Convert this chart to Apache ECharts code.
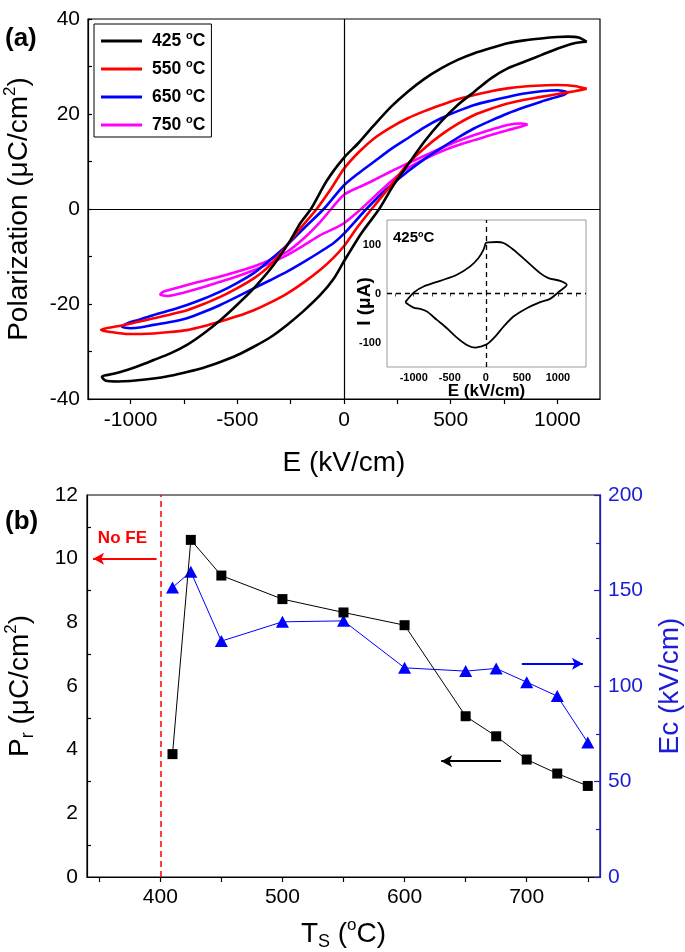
<!DOCTYPE html>
<html><head><meta charset="utf-8">
<script src="https://cdn.jsdelivr.net/npm/echarts@6/dist/echarts.min.js"></script>
<style>html,body{margin:0;padding:0;background:#fff}#c{width:685px;height:952px}</style>
</head><body><div id="c"></div>
<script>
const FONT = 'Liberation Sans, Arial, sans-serif';

// ---------- Panel (a): P-E hysteresis loops (E kV/cm, P uC/cm2) ----------
const loopNames = ['425', '550', '650', '750'];
const loopColors = ['#000000', '#ff0000', '#0000ff', '#ff00ff'];
const loop425 = [[1138,35.2],[1100,36.1],[1050,36.3],[1000,36.2],[924,35.9],[845,35.5],[767,34.9],[689,33.9],[611,32.8],[533,31.4],[455,29.6],[377,27.4],[299,24.7],[220,21.5],[142,17.7],[70,14.0],[0,10.8],[-80,6.0],[-155,0],[-205,-3.0],[-250,-6.5],[-330,-11.8],[-423,-16.7],[-502,-20.2],[-580,-23.4],[-658,-26.2],[-736,-28.6],[-814,-30.4],[-892,-31.8],[-960,-33.0],[-1017,-33.9],[-1080,-34.7],[-1135,-35.3],
  [-1119,-36.1],[-1060,-36.3],[-1002,-36.2],[-892,-35.7],[-814,-35.1],[-736,-34.3],[-658,-33.4],[-580,-32.2],[-502,-30.8],[-423,-29.0],[-345,-27.0],[-267,-24.4],[-190,-21.5],[-111,-18.1],[-50,-14.8],[0,-11.0],[80,-5.2],[165,0],[230,4.9],[299,9.3],[377,14.2],[455,18.4],[533,21.9],[611,24.7],[689,27.5],[767,29.6],[845,31.0],[924,32.4],[1002,33.8],[1080,34.9],[1138,35.2]];
const loop550 = [[1138,25.3],[1080,25.9],[1002,26.1],[924,26.0],[845,25.8],[767,25.4],[689,24.8],[611,24.0],[533,23.1],[455,21.9],[377,20.6],[299,19.1],[220,17.2],[142,14.9],[70,12.0],[0,8.5],[-60,4.3],[-128,0],[-205,-4.1],[-267,-7.6],[-346,-11.8],[-423,-14.6],[-502,-16.7],[-580,-18.5],[-658,-20.0],[-736,-21.3],[-814,-22.2],[-892,-23.0],[-970,-23.8],[-1049,-24.6],[-1139,-25.4],
  [-1111,-25.8],[-1060,-26.1],[-1017,-26.3],[-950,-26.3],[-892,-26.2],[-814,-25.9],[-736,-25.5],[-658,-24.7],[-580,-23.7],[-502,-22.6],[-423,-21.3],[-346,-19.7],[-267,-17.8],[-190,-15.5],[-111,-12.8],[-50,-10.3],[0,-7.8],[60,-4.0],[130,0],[220,5.0],[299,9.5],[377,12.8],[455,15.6],[533,17.9],[611,19.8],[689,21.1],[767,22.2],[845,23.0],[924,23.6],[1002,24.2],[1080,24.8],[1138,25.3]];
const loop650 = [[1049,24.6],[1002,25.0],[924,24.8],[845,24.3],[767,23.6],[689,22.8],[611,21.9],[533,20.6],[455,19.1],[377,17.2],[299,14.9],[220,12.6],[142,10.0],[70,7.6],[0,5.0],[-95,0],[-189,-4.1],[-267,-7.6],[-346,-10.7],[-423,-13.5],[-502,-15.6],[-580,-17.4],[-658,-18.9],[-736,-20.2],[-814,-21.3],[-892,-22.3],[-960,-23.3],[-1017,-24.1],[-1041,-24.8],
  [-1002,-25.1],[-950,-24.9],[-892,-24.4],[-814,-23.8],[-736,-23.0],[-658,-21.7],[-580,-20.2],[-502,-18.5],[-423,-16.7],[-346,-15.0],[-267,-13.2],[-190,-11.2],[-111,-9.0],[-50,-7.2],[0,-5.2],[105,0],[200,4.2],[299,7.9],[377,10.5],[455,12.8],[533,15.0],[611,17.0],[689,18.6],[767,20.1],[845,21.4],[924,22.6],[990,23.5],[1033,24.1],[1049,24.6]];
const loop750 = [[861,17.8],[830,18.0],[767,17.7],[689,16.7],[611,15.6],[533,14.3],[455,12.8],[377,11.2],[299,9.6],[220,7.9],[142,6.1],[70,4.6],[0,3.0],[-60,0],[-111,-2.7],[-189,-6.2],[-267,-9.0],[-346,-10.7],[-423,-12.1],[-502,-13.2],[-580,-14.2],[-658,-15.1],[-736,-16.0],[-800,-16.8],[-846,-17.4],[-861,-18.0],
  [-830,-18.3],[-780,-17.9],[-736,-17.4],[-658,-16.4],[-580,-15.3],[-502,-14.2],[-423,-12.9],[-346,-11.4],[-267,-9.7],[-190,-7.7],[-111,-5.5],[-50,-4.2],[0,-3.0],[80,0],[142,2.6],[220,5.8],[299,8.6],[377,10.5],[455,12.1],[533,13.4],[611,14.5],[689,15.6],[767,16.6],[820,17.2],[853,17.7],[861,17.8]];
const loops = [loop425, loop550, loop650, loop750];
const eTickLabels = [-1000, -500, 0, 500, 1000];
const eTicks = [-1000, -750, -500, -250, 0, 250, 500, 750, 1000];

// ---------- Inset: I-E loop at 425 C (E kV/cm, I uA) ----------
const insetIE = [[-1117,-17.7],[-993,2.7],[-863,14.3],[-633,25.9],[-402,38.2],[-217,55.3],[-102,72.4],[-32,89.4],[0,103],[37,104.4],[152,105.1],[245,103],[383,89.4],[568,65.5],[753,41.6],[868,31.4],[1030,25.9],[1122,17.7],
  [1006,2.7],[891,-10.9],[753,-17.7],[568,-30],[383,-47.1],[245,-67.6],[129,-88.1],[14,-103.8],[-78,-108.5],[-148,-110.6],[-263,-105.1],[-402,-90.1],[-540,-71],[-679,-53.9],[-817,-36.9],[-910,-31.4],[-1002,-28.7],[-1117,-17.7]];
const insetELabels = [-1000, -500, 0, 500, 1000];
const insetETicks = [-1250, -1000, -750, -500, -250, 0, 250, 500, 750, 1000, 1250];
const insetILabels = [-100, 0, 100];

// ---------- Panel (b): Pr and Ec vs Ts ----------
const tsValues = [410, 425, 450, 500, 550, 600, 650, 675, 700, 725, 750];
const prValues = [3.86, 10.59, 9.47, 8.73, 8.31, 7.91, 5.05, 4.42, 3.69, 3.25, 2.86];
const ecValues = [151.6, 159.8, 123.5, 133.6, 134.1, 109.5, 107.8, 109.2, 102.0, 94.7, 70.4];
const tsTickLabels = [400, 500, 600, 700];
const tsTicks = [350, 400, 450, 500, 550, 600, 650, 700, 750];
const prMinorTicks = [1, 3, 5, 7, 9, 11];

const chart = echarts.init(document.getElementById('c'), null, {renderer: 'canvas'});
const black = '#000';
const blueAxis = '#1c1cd6';
const axisLine = {show: true, onZero: false, lineStyle: {color: black, width: 1.2}};
const plain = v => String(v);

const series = [];
loops.forEach((d, i) => {
  const s = {
    name: loopNames[i], type: 'line', xAxisIndex: 0, yAxisIndex: 0,
    data: d, showSymbol: false, symbol: 'none', smooth: 0.25,
    lineStyle: {color: loopColors[i], width: 2.6}, itemStyle: {color: loopColors[i]},
    z: 5 - i
  };
  if (i === 0) {
    s.markLine = {silent: true, symbol: ['none', 'none'], label: {show: false},
      lineStyle: {color: black, width: 1.2, type: 'solid'},
      data: [{xAxis: 0}, {yAxis: 0}]};
  }
  series.push(s);
});
series.push({
  name: 'inset', type: 'line', xAxisIndex: 1, yAxisIndex: 1, data: insetIE,
  showSymbol: false, symbol: 'none', smooth: 0.3, lineStyle: {color: black, width: 1.8},
  markLine: {silent: true, symbol: ['none', 'none'], label: {show: false},
    lineStyle: {color: black, width: 1.3, type: [5, 4]},
    data: [{xAxis: 0}, {yAxis: 0}]}
});
series.push({
  name: 'Pr', type: 'line', xAxisIndex: 2, yAxisIndex: 2,
  data: tsValues.map((t, i) => [t, prValues[i]]),
  symbol: 'rect', symbolSize: 10, lineStyle: {color: black, width: 1}, itemStyle: {color: black}, z: 4,
  markLine: {silent: true, label: {show: false}, symbol: ['none', 'none'],
    data: [
      {xAxis: 400, lineStyle: {color: '#ff0000', width: 1.5, type: [6, 4]}},
      [{coord: [397, 10], lineStyle: {color: '#ff0000', width: 2, type: 'solid'}, symbol: 'none'},
       {coord: [345, 10], symbol: 'arrow', symbolSize: [9, 11]}],
      [{coord: [679, 3.64], lineStyle: {color: black, width: 2, type: 'solid'}, symbol: 'none'},
       {coord: [630, 3.64], symbol: 'arrow', symbolSize: [9, 11]}]
    ]},
  markPoint: {silent: true, symbol: 'rect', symbolSize: 1, itemStyle: {color: 'rgba(0,0,0,0)'},
    label: {show: true, position: 'inside', formatter: 'No FE', color: '#ff0000', fontWeight: 'bold', fontSize: 17, fontFamily: FONT},
    data: [{coord: [369, 10.65]}]}
});
series.push({
  name: 'Ec', type: 'line', xAxisIndex: 2, yAxisIndex: 3,
  data: tsValues.map((t, i) => [t, ecValues[i]]),
  symbol: 'triangle', symbolSize: [13, 12], lineStyle: {color: '#0000ff', width: 1}, itemStyle: {color: '#0000ff'}, z: 3,
  markLine: {silent: true, label: {show: false}, symbol: ['none', 'none'],
    data: [
      [{coord: [696, 111.6], lineStyle: {color: '#0000ff', width: 2, type: 'solid'}, symbol: 'none'},
       {coord: [746, 111.6], symbol: 'arrow', symbolSize: [9, 11]}]
    ]}
});

const option = {
  animation: false,
  backgroundColor: '#fff',
  textStyle: {fontFamily: FONT},
  grid: [
    {left: 88, top: 19, width: 512, height: 380, show: true, borderColor: black, borderWidth: 1.2, containLabel: false, outerBoundsMode: 'none'},
    {left: 387, top: 220, width: 199, height: 147, show: true, borderColor: '#9a9a9a', borderWidth: 1, containLabel: false, outerBoundsMode: 'none'},
    {left: 87, top: 495, width: 513, height: 382, show: true, borderColor: black, borderWidth: 1.2, containLabel: false, outerBoundsMode: 'none'}
  ],
  legend: {
    data: loopNames, left: 94, top: 24, orient: 'vertical', selectedMode: false,
    icon: 'rect', itemWidth: 41, itemHeight: 3, itemGap: 6,
    padding: [6, 6, 1, 7], borderColor: black, borderWidth: 1,
    formatter: n => n + ' {sup|o}C',
    textStyle: {fontSize: 17.5, fontWeight: 'bold', color: black, fontFamily: FONT, lineHeight: 22, padding: [0, 0, 0, 5],
      rich: {sup: {fontSize: 11, fontWeight: 'bold', verticalAlign: 'top', fontFamily: FONT, color: black}}}
  },
  xAxis: [
    {type: 'value', gridIndex: 0, min: -1200, max: 1200, axisLine: axisLine,
     axisTick: {show: true, customValues: eTicks, length: 5, lineStyle: {color: black, width: 1.2}},
     axisLabel: {customValues: eTickLabels, formatter: plain, fontSize: 21, color: black, margin: 11, fontFamily: FONT},
     splitLine: {show: false},
     name: 'E (kV/cm)', nameLocation: 'middle', nameGap: 50, nameMoveOverlap: false,
     nameTextStyle: {fontSize: 28, color: black, fontFamily: FONT}},
    {type: 'value', gridIndex: 1, min: -1371, max: 1389, axisLine: {show: false},
     axisTick: {show: true, customValues: insetETicks, length: 3, lineStyle: {color: '#444', width: 1}},
     axisLabel: {customValues: insetELabels, formatter: plain, fontSize: 11, fontWeight: 'bold', color: black, margin: 5, fontFamily: FONT},
     splitLine: {show: false},
     name: 'E (kV/cm)', nameLocation: 'middle', nameGap: 16, nameMoveOverlap: false,
     nameTextStyle: {fontSize: 17, fontWeight: 'bold', color: black, fontFamily: FONT}},
    {type: 'value', gridIndex: 2, min: 340, max: 760, axisLine: axisLine,
     axisTick: {show: true, customValues: tsTicks, length: 5, lineStyle: {color: black, width: 1.2}},
     axisLabel: {customValues: tsTickLabels, formatter: plain, fontSize: 21, color: black, margin: 10, fontFamily: FONT},
     splitLine: {show: false},
     name: 'T{sub|S} ({sup|o}C)', nameLocation: 'middle', nameGap: 40, nameMoveOverlap: false,
     nameTextStyle: {fontSize: 28, color: black, fontFamily: FONT, lineHeight: 34,
       rich: {sub: {fontSize: 18, verticalAlign: 'bottom', fontFamily: FONT, color: black},
              sup: {fontSize: 17, verticalAlign: 'top', fontFamily: FONT, color: black}}}}
  ],
  yAxis: [
    {type: 'value', gridIndex: 0, min: -40, max: 40, interval: 20, axisLine: axisLine,
     axisTick: {show: true, inside: true, length: 4, lineStyle: {color: black, width: 1.2}},
     minorTick: {show: true, splitNumber: 2, length: 4, lineStyle: {color: black, width: 1.2}},
     axisLabel: {formatter: plain, fontSize: 21, color: black, margin: 8, fontFamily: FONT},
     splitLine: {show: false},
     name: 'Polarization (μC/cm{sup|2})', nameLocation: 'middle', nameGap: 52, nameRotate: 90, nameMoveOverlap: false,
     nameTextStyle: {fontSize: 28, color: black, fontFamily: FONT, lineHeight: 34,
       rich: {sup: {fontSize: 17, verticalAlign: 'top', fontFamily: FONT, color: black}}}},
    {type: 'value', gridIndex: 1, min: -150, max: 150, axisLine: {show: false},
     axisTick: {show: false},
     axisLabel: {customValues: insetILabels, formatter: plain, fontSize: 11, fontWeight: 'bold', color: black, margin: 6, fontFamily: FONT},
     splitLine: {show: false},
     name: 'I (μA)', nameLocation: 'middle', nameGap: 13, nameRotate: 90, nameMoveOverlap: false,
     nameTextStyle: {fontSize: 19, fontWeight: 'bold', color: black, fontFamily: FONT, padding: [0, 16, 0, 0]}},
    {type: 'value', gridIndex: 2, min: 0, max: 12, interval: 2, axisLine: axisLine,
     axisTick: {show: true, inside: true, customValues: prMinorTicks, length: 4, lineStyle: {color: black, width: 1.2}},
     axisLabel: {formatter: plain, fontSize: 21, color: black, margin: 9, fontFamily: FONT},
     splitLine: {show: false},
     name: 'P{sub|r} (μC/cm{sup|2})', nameLocation: 'middle', nameGap: 50, nameRotate: 90, nameMoveOverlap: false,
     nameTextStyle: {fontSize: 28, color: black, fontFamily: FONT, lineHeight: 34,
       rich: {sub: {fontSize: 18, verticalAlign: 'bottom', fontFamily: FONT, color: black},
              sup: {fontSize: 17, verticalAlign: 'top', fontFamily: FONT, color: black}}}},
    {type: 'value', gridIndex: 2, position: 'right', min: 0, max: 200, interval: 50,
     axisLine: {show: true, onZero: false, lineStyle: {color: blueAxis, width: 1.3}},
     axisTick: {show: true, inside: true, length: 6, lineStyle: {color: blueAxis, width: 1.2}},
     minorTick: {show: true, splitNumber: 2, length: 4, lineStyle: {color: blueAxis, width: 1.2}},
     axisLabel: {formatter: plain, fontSize: 21, color: blueAxis, margin: 8, fontFamily: FONT},
     splitLine: {show: false},
     name: 'Ec (kV/cm)', nameLocation: 'middle', nameGap: 56, nameRotate: 90, nameMoveOverlap: false,
     nameTextStyle: {fontSize: 28, color: blueAxis, fontFamily: FONT}}
  ],
  graphic: [
    {type: 'text', left: 5, top: 26, style: {text: '(a)', font: 'bold 26px ' + FONT, fill: black}},
    {type: 'text', left: 5, top: 509, style: {text: '(b)', font: 'bold 26px ' + FONT, fill: black}},
    {type: 'text', left: 393, top: 230, style: {text: '425{sup|o}C', font: 'bold 15px ' + FONT, fill: black,
      rich: {sup: {fontSize: 9, fontWeight: 'bold', verticalAlign: 'top', fill: black}}}}
  ],
  series: series
};
chart.setOption(option);
</script>
</body></html>
